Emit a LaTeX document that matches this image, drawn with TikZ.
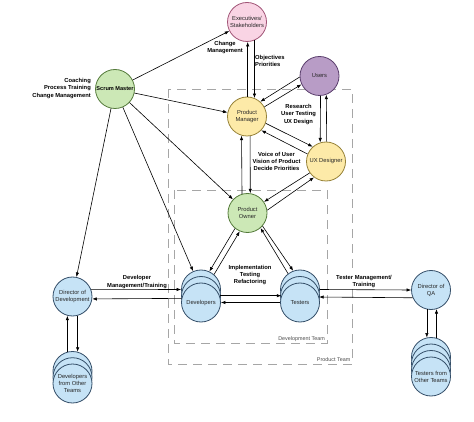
\documentclass[tikz,border=0pt]{standalone}
\usepackage{fontspec}
\setmainfont{Liberation Sans}
\usepackage{tikz}
\usetikzlibrary{arrows.meta}
\definecolor{sc_green}{RGB}{204, 232, 182}
\definecolor{sc_greenline}{RGB}{84, 122, 58}
\definecolor{sc_pink}{RGB}{249, 212, 228}
\definecolor{sc_pinkline}{RGB}{160, 84, 118}
\definecolor{sc_violet}{RGB}{184, 156, 198}
\definecolor{sc_violetline}{RGB}{90, 62, 108}
\definecolor{sc_yellow}{RGB}{253, 234, 168}
\definecolor{sc_yellowline}{RGB}{150, 130, 56}
\definecolor{sc_blue}{RGB}{198, 227, 246}
\definecolor{sc_blueline}{RGB}{52, 78, 104}
\tikzstyle{nd}=[circle,draw,line width=0.8pt,inner sep=0pt,minimum size=39pt,
  align=center,font=\fontsize{5.8}{7}\selectfont,text=black!85]
\tikzstyle{gn}=[nd,fill=sc_green,draw=sc_greenline]
\tikzstyle{pn}=[nd,fill=sc_pink,draw=sc_pinkline]
\tikzstyle{vn}=[nd,fill=sc_violet,draw=sc_violetline]
\tikzstyle{yn}=[nd,fill=sc_yellow,draw=sc_yellowline]
\tikzstyle{bn}=[nd,fill=sc_blue,draw=sc_blueline]
\tikzstyle{lbl}=[align=center,inner sep=0pt,font=\fontsize{5.8}{7.3}\selectfont\bfseries]
\tikzstyle{teamlbl}=[anchor=east,inner sep=0pt,text=black!70,font=\fontsize{5.4}{6}\selectfont]
\tikzstyle{team}=[draw=black!35,line width=0.7pt,dash pattern=on 9pt off 6pt]
\tikzstyle{arr}=[-{Latex[length=4.5pt,width=3.4pt]},line width=0.6pt]
\tikzstyle{none}=[]

\begin{document}
\begin{tikzpicture}[x=1pt,y=-1pt]
            \useasboundingbox (0,0) rectangle (474,422);
            \draw [style=team] (168,89) rectangle (352,364);
            \draw [style=team] (174,190) rectangle (327,343);
            \node [style=teamlbl] (dteam) at (325,339.5) {Development Team};
            \node [style=teamlbl] (pteam) at (350.5,359.5) {Product Team};
            \node [style=gn, text=black, font=\fontsize{5.6}{7}\selectfont\bfseries] (sm) at (115,89) {Scrum Master};
            \node [style=pn] (exe) at (247,22) {Executives/\\Stakeholders};
            \node [style=vn] (usr) at (319.5,76) {Users};
            \node [style=yn] (pm) at (247,116.5) {Product\\Manager};
            \node [style=yn] (ux) at (326,161.5) {UX Designer};
            \node [style=gn] (po) at (247.5,213) {Product\\Owner};
            \node [style=bn] (dev3) at (201,289.5) {};
            \node [style=bn] (dev2) at (201,296) {};
            \node [style=bn] (dev) at (201,302.5) {Developers};
            \node [style=bn] (tst3) at (300,289.5) {};
            \node [style=bn] (tst2) at (300,296) {};
            \node [style=bn] (tst) at (300,302.5) {Testers};
            \node [style=bn] (dd) at (72.5,296.5) {Director of\\Development};
            \node [style=bn] (dot3) at (72.5,371) {};
            \node [style=bn] (dot2) at (72.5,377.2) {};
            \node [style=bn] (dot) at (72.5,383.5) {Developers\\from Other\\Teams};
            \node [style=bn] (dqa) at (431,290) {Director of\\QA};
            \node [style=bn] (tot4) at (431,357) {};
            \node [style=bn] (tot3) at (431,363.5) {};
            \node [style=bn] (tot2) at (431,370) {};
            \node [style=bn] (tot) at (431,376.5) {Testers from\\Other Teams};
            \node [style=lbl] (cm) at (225,47.5) {Change\\Management};
            \node [style=lbl, anchor=west, align=left] (op) at (255,61) {Objectives\\Priorities};
            \node [style=lbl, anchor=east, align=right] (coach) at (91,88.5) {Coaching\\Process Training\\Change Management};
            \node [style=lbl] (rs) at (298.5,114.3) {Research\\User Testing\\UX Design};
            \node [style=lbl] (vu) at (276.5,161.3) {Voice of User\\Vision of Product\\Decide Priorities};
            \node [style=lbl] (impl) at (250,275) {Implementation\\Testing\\Refactoring};
            \node [style=lbl] (dm) at (137,282) {Developer\\Management/Training};
            \node [style=lbl, fill=white, inner sep=1pt] (tm) at (364,281.5) {Tester Management/\\Training};
            \draw [style=arr] (sm) to (exe);
            \draw [style=arr] (sm) to (pm);
            \draw [style=arr] (sm) to (po);
            \draw [style=arr] (sm) to (dev3);
            \draw [style=arr] (sm) to (dd);
            \draw [style=arr] (pm.88) to (exe.-88);
            \draw [style=arr] (exe.-68) to (pm.68);
            \draw [style=arr] (usr.183) to (pm.48);
            \draw [style=arr] (pm.29) to (usr.205);
            \draw [style=arr] (pm.-20) to (ux.132);
            \draw [style=arr] (ux.158) to (pm.-44);
            \draw [style=arr] (usr.-87) to (ux.107);
            \draw [style=arr] (ux.88) to (usr.-70);
            \draw [style=arr] (po.106) to (pm.-106);
            \draw [style=arr] (pm.-81) to (po.82);
            \draw [style=arr] (ux.215) to (po.34);
            \draw [style=arr] (po.8) to (ux.233);
            \draw [style=arr] (po.231) to (dev3.65);
            \draw [style=arr] (dev3.49) to (po.247);
            \draw [style=arr] (tst3.127) to (po.-49);
            \draw [style=arr] (po.-41) to (tst3.110);
            \draw [style=arr] (dev.20) to (tst.160);
            \draw [style=arr] (tst.180) to (dev.0);
            \draw [style=arr] (dd.20) to (dev3.180);
            \draw [style=arr] (dev.168) to (dd.-7);
            \draw [style=arr] (dot3.105) to (dd.-105);
            \draw [style=arr] (dd.-75) to (dot3.75);
            \draw [style=arr] (tst3.0) to (dqa.180);
            \draw [style=arr] (dqa.203) to (tst.16);
            \draw [style=arr] (dqa.-102) to (tot4.102);
            \draw [style=arr] (tot4.74) to (dqa.-74);
    \end{tikzpicture}
\end{document}
